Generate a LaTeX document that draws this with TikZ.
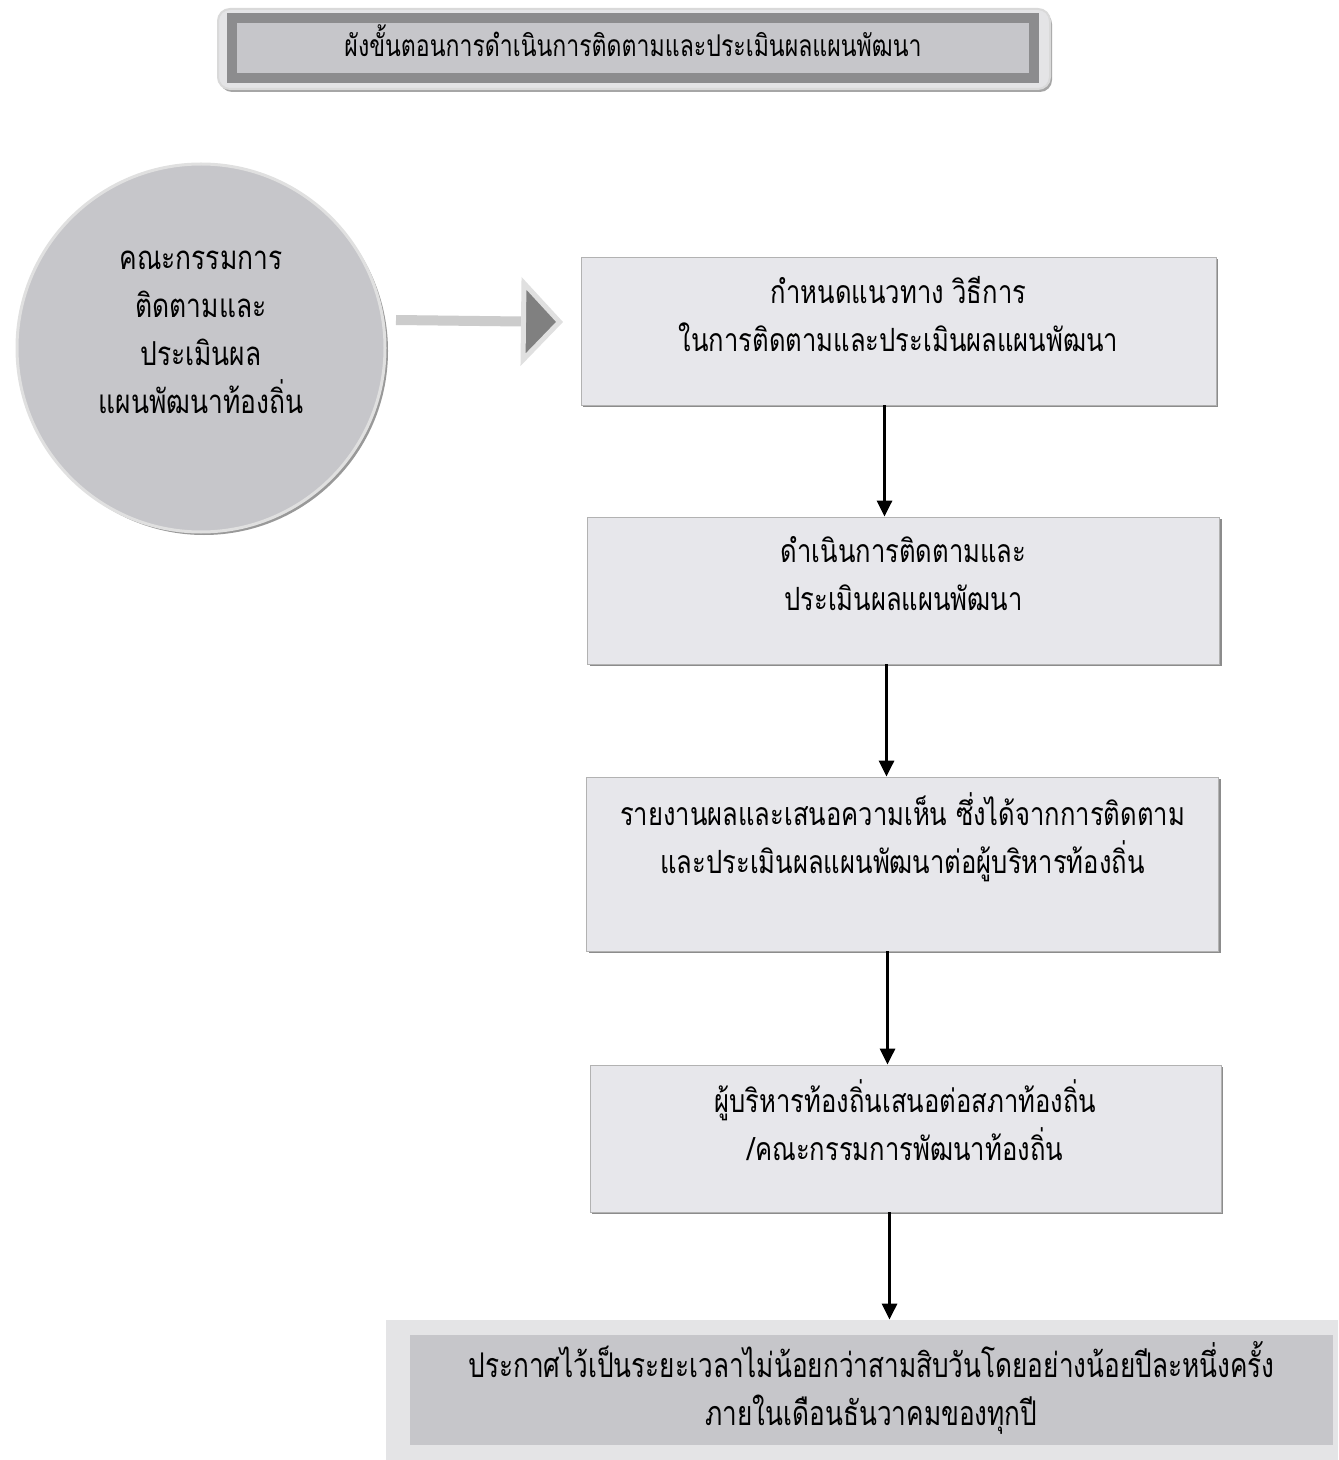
\documentclass[tikz,border=0pt]{standalone}
\usepackage{fontspec}
\newfontfamily\thaifont[Script=Thai,FakeStretch=0.8]{Loma}
\newfontfamily\thaicond[Script=Thai,FakeStretch=0.77]{Loma}
\usepackage{xcolor}
\usetikzlibrary{arrows.meta,shadows}
\definecolor{boxgray}{HTML}{E7E7EB}
\definecolor{bandgray}{HTML}{C6C6CA}
\definecolor{framegray}{HTML}{8C8C8E}
\definecolor{palegray}{HTML}{E4E4E6}

\begin{document}
\begin{tikzpicture}[x=0.5pt,y=-0.5pt,
  stepbox/.style={rectangle,draw=black!30,fill=boxgray,minimum width=316pt,minimum height=73.5pt,align=center,
    font=\thaifont\fontsize{16}{24}\selectfont,text depth=17pt,
    drop shadow={shadow xshift=1pt,shadow yshift=-1.2pt,fill=black!45,opacity=1}},
  flow/.style={-{Triangle[width=7.5pt,length=8pt]},line width=1.5pt,black}]
  \fill[white] (0,0) rectangle (1338,1460);
  \useasboundingbox (0,0) rectangle (1338,1460);
  % title
  \node[rectangle,rounded corners=6pt,draw=black!15,line width=1pt,fill=palegray,minimum width=416pt,minimum height=40pt,
    drop shadow={shadow xshift=1pt,shadow yshift=-1.5pt,fill=black!35,opacity=1}] (headframe) at (634,49) {};
  \node[rectangle,draw=framegray,line width=5pt,fill=bandgray,minimum width=401pt,minimum height=28.5pt,
    font=\thaicond\fontsize{15}{18}\selectfont,text depth=7pt] (head) at (633,48) {ผังขั้นตอนการดำเนินการติดตามและประเมินผลแผนพัฒนา};
  % committee
  \node[circle,draw=black!12,line width=1.5pt,fill=bandgray,minimum size=184pt,align=center,
    font=\thaifont\fontsize{16.5}{24}\selectfont,text depth=15.5pt,
    drop shadow={shadow xshift=1.5pt,shadow yshift=-1.5pt,fill=black!40,opacity=1}] (comm) at (201,348)
    {คณะกรรมการ\\ติดตามและ\\ประเมินผล\\แผนพัฒนาท้องถิ่น};
  \coordinate (gstart) at (396,320);
  \coordinate (gend) at (563,322);
  \draw[line width=5pt,draw=black!20,-{Triangle[length=21pt,width=44pt,line width=2.5pt,fill=black!50,color=black!12]}] (gstart) -- (gend);
  % steps
  \node[stepbox,minimum width=317.5pt,minimum height=74pt] (plan) at (898.5,331) {กำหนดแนวทาง วิธีการ\\ในการติดตามและประเมินผลแผนพัฒนา};
  \node[stepbox] (track) at (903.5,590.5) {ดำเนินการติดตามและ\\ประเมินผลแผนพัฒนา};
  \node[stepbox,minimum height=87pt,text depth=30.5pt] (report) at (902.5,864) {รายงานผลและเสนอความเห็น ซึ่งได้จากการติดตาม\\และประเมินผลแผนพัฒนาต่อผู้บริหารท้องถิ่น};
  \node[stepbox,minimum width=315.5pt,text depth=18pt] (present) at (905.5,1138.5) {ผู้บริหารท้องถิ่นเสนอต่อสภาท้องถิ่น\\/คณะกรรมการพัฒนาท้องถิ่น};
  % announcement
  \node[rectangle,fill=palegray,minimum width=476pt,minimum height=70pt] (annframe) at (862,1390) {};
  \node[rectangle,fill=bandgray,minimum width=461.5pt,minimum height=53pt,align=center,
    font=\thaicond\fontsize{17}{24}\selectfont,text depth=6.5pt] (announce) at (871.5,1390)
    {ประกาศไว้เป็นระยะเวลาไม่น้อยกว่าสามสิบวันโดยอย่างน้อยปีละหนึ่งครั้ง\\ภายในเดือนธันวาคมของทุกปี};
  % arrows
  \draw[flow] ([xshift=-7pt]plan.south) -- ([xshift=-7pt]plan.south |- track.north);
  \draw[flow] ([xshift=-8.5pt]track.south) -- ([xshift=-8.5pt]track.south |- report.north);
  \draw[flow] ([xshift=-7.5pt]report.south) -- ([xshift=-7.5pt]report.south |- present.north);
  \draw[flow] ([xshift=-8pt]present.south) -- ([xshift=-8pt]present.south |- annframe.north);
\end{tikzpicture}
\end{document}
